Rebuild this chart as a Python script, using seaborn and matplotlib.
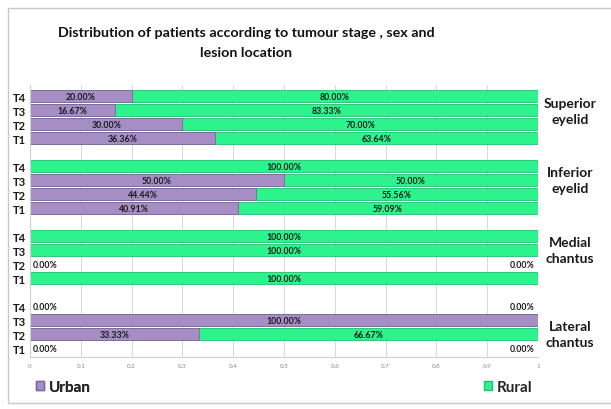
import pandas as pd
import matplotlib.pyplot as plt
import seaborn as sns
from matplotlib.patches import Patch, Rectangle
from matplotlib.transforms import blended_transform_factory

locations = ['Superior\neyelid', 'Inferior\neyelid', 'Medial\nchantus', 'Lateral\nchantus']
stages = ['T4', 'T3', 'T2', 'T1']
urban = [0.20, 0.1667, 0.30, 0.3636,
         0.0, 0.50, 0.4444, 0.4091,
         0.0, 0.0, 0.0, 0.0,
         0.0, 1.00, 0.3333, 0.0]
rural = [0.80, 0.8333, 0.70, 0.6364,
         1.00, 0.50, 0.5556, 0.5909,
         1.00, 1.00, 0.0, 1.00,
         0.0, 0.0, 0.6667, 0.0]
xticks = [0, 0.1, 0.2, 0.3, 0.4, 0.5, 0.6, 0.7, 0.8, 0.9, 1]
xticklabels = ['0', '0.1', '0.2', '0.3', '0.4', '0.5', '0.6', '0.7', '0.8', '0.9', '1']

rows = []
for g, loc in enumerate(locations):
    for i, st in enumerate(stages):
        k = g * 4 + i
        rows.append({'location': loc, 'stage': st, 'row': g * 5 + i,
                     'urban': urban[k], 'rural': rural[k],
                     'total': urban[k] + rural[k]})
df = pd.DataFrame(rows)

green = '#2cf38c'
purple = '#a68dc3'

sns.set_style('white')
plt.rcParams['font.family'] = ['Lato', 'DejaVu Sans']

fig = plt.figure(figsize=(6.11, 4.10), dpi=100)
ax = fig.add_axes([30 / 611, 1 - 358 / 410, 508 / 611, 272 / 410])

# green = total (urban + rural), purple drawn over it -> stacked look
sns.barplot(data=df, x='total', y='row', orient='y', native_scale=True,
            color=green, width=0.9, edgecolor='#1fc070', linewidth=0.6,
            saturation=1, ax=ax)
sns.barplot(data=df, x='urban', y='row', orient='y', native_scale=True,
            color=purple, width=0.9, edgecolor='#7d64a0', linewidth=0.6,
            saturation=1, ax=ax)

ax.set_xlim(0, 1)
ax.set_ylim(18.64, -0.79)
ax.set_xticks(xticks)
ax.set_xticklabels(xticklabels, fontsize=4.5, color='#888888')
ax.set_yticks(df['row'])
ax.set_yticklabels(df['stage'], fontsize=8, fontweight='bold', color='#1a1a1a')
ax.tick_params(axis='both', length=0, pad=4)
ax.tick_params(axis='y', pad=3)
ax.grid(axis='x', color='#d9d9d9', linewidth=0.8)
ax.set_axisbelow(True)
ax.set_xlabel('')
ax.set_ylabel('')
for s in ['top', 'right']:
    ax.spines[s].set_visible(False)
for s in ['left', 'bottom']:
    ax.spines[s].set_color('#d0d0d0')
    ax.spines[s].set_linewidth(0.8)

lab = dict(fontsize=6.3, fontweight='bold', color='#1a1a1a', va='center')
for _, r in df.iterrows():
    if r['total'] == 0:
        ax.text(0.006, r['row'], '0.00%', ha='left', **lab)
        ax.text(0.994, r['row'], '0.00%', ha='right', **lab)
        continue
    if r['urban'] > 0:
        ax.text(r['urban'] / 2, r['row'], f"{r['urban'] * 100:.2f}%", ha='center', **lab)
    if r['rural'] > 0:
        ax.text(r['urban'] + r['rural'] / 2, r['row'], f"{r['rural'] * 100:.2f}%", ha='center', **lab)

trans = blended_transform_factory(ax.transAxes, ax.transData)
for loc, yy in zip(locations, [1.07, 6.0, 11.0, 17.0]):
    ax.text(1.063, yy, loc, transform=trans, ha='center', va='center',
            fontsize=10, fontweight='bold', color='#1a1a1a', linespacing=1.35)

fig.text(246 / 611, 1 - 43 / 410,
         'Distribution of patients according to tumour stage , sex and\nlesion location',
         ha='center', va='center', fontsize=10.3, fontweight='bold',
         color='#111111', linespacing=1.8)

leg1 = fig.legend(handles=[Patch(facecolor=purple, edgecolor='#7d64a0', label='Urban')],
                  loc='center left', bbox_to_anchor=(22 / 611, 1 - 388 / 410),
                  frameon=False, prop={'size': 11, 'weight': 'bold'},
                  handlelength=0.55, handleheight=0.55, handletextpad=0.3)
leg2 = fig.legend(handles=[Patch(facecolor=green, edgecolor='#1fc070', label='Rural')],
                  loc='center left', bbox_to_anchor=(470 / 611, 1 - 388 / 410),
                  frameon=False, prop={'size': 11, 'weight': 'bold'},
                  handlelength=0.55, handleheight=0.55, handletextpad=0.3)
fig.add_artist(leg1)

fig.patches.append(Rectangle((8 / 611, 1 - 404 / 410), 0.99, 395 / 410,
                             transform=fig.transFigure, fill=False,
                             edgecolor='#c8c8c8', linewidth=1.0))

fig.savefig('out.png', dpi=100)
